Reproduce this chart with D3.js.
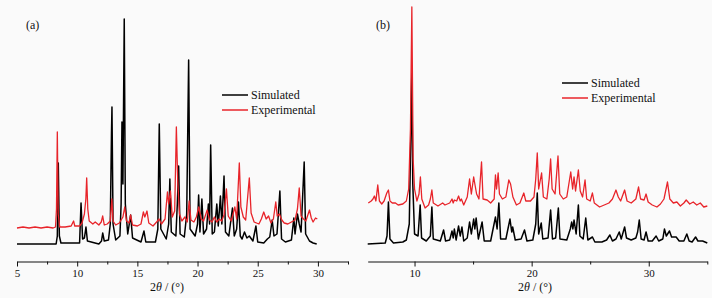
<!DOCTYPE html>
<html>
<head>
<meta charset="utf-8">
<script src="https://cdn.jsdelivr.net/npm/d3@7/dist/d3.min.js"></script>
<style>
body{margin:0;background:#fafafa;}
svg{display:block;}
text{font-family:"Liberation Serif","DejaVu Serif",serif;fill:#111;}
</style>
</head>
<body>
<div id="chart"></div>
<script>
// (a) 2theta / intensity (a.u.)
var simA = [[5.0,0],[8.25,0],[8.35,8],[8.43,81],[8.52,8],[8.65,1],[10.2,1],[10.32,41],[10.45,5],[10.6,6],[10.73,17],[10.85,3],[11.8,0],[12.02,3],[12.12,11],[12.25,3],[12.6,4],[12.75,20],[12.85,111],[12.89,137],[12.98,20],[13.2,4],[13.55,8],[13.65,40],[13.72,122],[13.8,60],[13.91,225],[14.0,40],[14.2,10],[14.44,29],[14.6,6],[15.3,2],[15.55,13],[15.7,2],[16.5,2],[16.7,15],[16.82,120],[16.95,15],[17.4,5],[17.6,20],[17.7,65],[17.82,12],[18.2,8],[18.32,40],[18.43,78],[18.55,10],[18.9,7],[19.1,30],[19.26,184],[19.38,15],[19.8,8],[20.0,20],[20.09,49],[20.2,12],[20.36,45],[20.5,10],[20.75,15],[20.9,40],[21.0,20],[21.09,99],[21.22,10],[21.4,12],[21.6,40],[21.72,18],[21.9,48],[22.02,20],[22.2,68],[22.32,12],[22.6,8],[22.9,36],[23.05,8],[23.25,15],[23.4,42],[23.55,8],[23.7,5],[23.9,12],[24.1,6],[24.3,8],[24.6,3],[24.85,18],[25.0,2],[25.5,1],[25.8,5],[26.0,7],[26.2,24],[26.35,8],[26.6,10],[26.84,53],[26.98,5],[27.3,2],[27.8,4],[28.0,26],[28.1,10],[28.3,30],[28.45,20],[28.6,12],[28.86,82],[28.98,10],[29.3,3],[29.6,1],[29.9,0]];
var expA = [[5.0,1],[5.5,2],[6.0,1],[6.5,2],[7.0,1],[7.5,2],[8.0,1],[8.2,2],[8.28,20],[8.35,97],[8.42,15],[8.55,2],[9.0,2],[9.5,3],[9.7,8],[9.8,3],[10.2,3],[10.4,6],[10.6,15],[10.72,30],[10.79,51],[10.88,20],[11.0,8],[11.3,5],[11.5,7],[11.8,4],[12.0,7],[12.12,13],[12.25,4],[12.5,5],[12.75,8],[12.88,30],[12.98,8],[13.2,4],[13.5,6],[13.8,12],[13.95,22],[14.1,8],[14.3,6],[14.44,14],[14.6,4],[15.0,3],[15.3,5],[15.5,17],[15.62,12],[15.8,18],[15.95,6],[16.3,3],[16.6,7],[16.8,10],[17.0,5],[17.3,10],[17.5,37],[17.6,25],[17.75,38],[17.9,12],[18.1,18],[18.24,102],[18.35,50],[18.5,15],[18.7,8],[18.95,12],[19.15,7],[19.3,28],[19.45,9],[19.7,7],[19.9,12],[20.1,22],[20.3,10],[20.5,8],[20.8,19],[21.0,9],[21.2,7],[21.4,12],[21.6,7],[21.8,10],[22.0,8],[22.2,14],[22.4,40],[22.55,13],[22.8,8],[23.1,22],[23.25,10],[23.47,66],[23.6,22],[23.8,12],[24.0,9],[24.3,51],[24.45,16],[24.7,7],[24.9,6],[25.1,5],[25.3,10],[25.5,17],[25.7,10],[25.9,13],[26.1,6],[26.3,10],[26.5,27],[26.62,13],[26.8,15],[27.0,9],[27.2,6],[27.5,5],[27.8,7],[28.1,9],[28.3,20],[28.45,41],[28.6,13],[28.8,10],[29.0,8],[29.3,19],[29.45,11],[29.6,7],[29.8,11],[29.95,10]];

// (b)
var simB = [[6.0,0],[7.5,1],[7.65,8],[7.77,42],[7.9,5],[8.2,1],[9.0,2],[9.3,4],[9.55,20],[9.7,120],[9.77,173],[9.85,60],[10.0,10],[10.3,8],[10.48,39],[10.6,6],[11.0,3],[11.35,8],[11.48,37],[11.6,5],[12.2,3],[12.48,14],[12.65,3],[13.0,4],[13.2,13],[13.3,6],[13.4,15],[13.55,4],[13.76,18],[13.9,8],[14.05,17],[14.2,3],[14.5,6],[14.7,22],[14.85,10],[15.05,25],[15.15,15],[15.26,26],[15.45,5],[15.77,22],[15.95,3],[16.5,3],[16.91,27],[17.05,15],[17.2,41],[17.35,5],[17.8,5],[18.15,25],[18.3,12],[18.38,17],[18.6,4],[19.1,5],[19.39,14],[19.6,3],[20.1,4],[20.35,20],[20.48,51],[20.6,10],[20.82,21],[20.95,5],[21.4,6],[21.62,34],[21.78,5],[22.05,6],[22.28,36],[22.42,5],[23.0,4],[23.3,15],[23.42,22],[23.52,15],[23.62,24],[23.8,10],[23.99,39],[24.12,8],[24.4,5],[24.62,26],[24.8,4],[25.19,7],[25.4,2],[26.0,2],[26.4,4],[26.68,9],[26.9,3],[27.2,5],[27.48,12],[27.65,5],[27.94,17],[28.1,6],[28.5,4],[28.9,6],[29.05,12],[29.19,24],[29.35,5],[29.6,4],[29.77,12],[29.95,3],[30.3,3],[30.63,8],[30.85,3],[31.2,5],[31.34,15],[31.5,8],[31.77,13],[31.95,7],[32.34,7],[32.6,3],[33.0,3],[33.25,10],[33.45,3],[33.7,2],[34.0,7],[34.2,3],[34.6,3],[35.0,1]];
var expB = [[6.05,6],[6.3,8],[6.45,10],[6.57,13],[6.7,8],[6.86,24],[7.0,8],[7.2,5],[7.4,8],[7.63,16],[7.77,19],[7.9,8],[8.1,6],[8.37,6],[8.6,4],[9.0,5],[9.3,8],[9.5,20],[9.65,80],[9.77,202],[9.88,50],[10.0,20],[10.2,8],[10.38,15],[10.5,32],[10.62,10],[10.9,1],[11.2,4],[11.35,10],[11.48,19],[11.6,6],[12.0,3],[12.4,6],[12.6,4],[13.0,6],[13.2,10],[13.3,6],[13.4,9],[13.6,8],[13.76,13],[13.9,8],[14.0,10],[14.2,4],[14.5,12],[14.7,30],[14.85,15],[15.05,32],[15.15,25],[15.3,15],[15.5,10],[15.72,47],[15.85,10],[16.2,9],[16.5,6],[16.8,10],[16.91,34],[17.0,20],[17.14,36],[17.25,15],[17.5,10],[17.8,12],[18.05,29],[18.2,25],[18.4,12],[18.7,4],[19.0,6],[19.33,16],[19.5,8],[19.9,8],[20.2,12],[20.35,30],[20.48,56],[20.6,20],[20.85,36],[21.0,12],[21.3,10],[21.5,30],[21.62,50],[21.75,20],[22.0,15],[22.25,53],[22.4,15],[22.7,10],[23.0,12],[23.34,37],[23.5,20],[23.62,32],[23.75,18],[23.99,39],[24.15,18],[24.35,12],[24.56,29],[24.7,10],[25.0,8],[25.19,16],[25.35,6],[25.8,2],[26.2,4],[26.6,6],[26.9,10],[27.2,19],[27.4,12],[27.6,8],[27.94,19],[28.15,8],[28.5,6],[28.9,10],[29.13,22],[29.3,10],[29.6,9],[29.77,15],[29.95,7],[30.3,4],[30.7,2],[31.0,5],[31.3,10],[31.6,27],[31.8,10],[32.1,6],[32.4,7],[32.7,3],[33.0,6],[33.2,9],[33.5,5],[33.8,7],[34.1,4],[34.4,6],[34.7,2],[35.0,3]];

var ticksA = [5,10,15,20,25,30];
var minorA = [7.5,12.5,17.5,22.5,27.5,32.5];
var ticksB = [10,20,30];
var minorB = [15,25,35];
var legendNames = ["Simulated","Experimental"];
var colors = ["#000000","#e8242a"];

function init(){
    var w = 723, h = 298;

    var svg = d3.select("#chart")
        .append("svg")
        .attr("width", w)
        .attr("height", h);

    svg.append("rect")
        .attr("x", 712).attr("y", 0)
        .attr("width", w - 712).attr("height", h)
        .style("fill", "#ffffff");

    panel(svg, {
        label: "(a)", labelX: 26, titleX: 167,
        x0: 17, x1: 348, domain: [5, 32.5],
        ymax: 225, yTop: 19, expOffset: 15,
        sim: simA, exp: expA, ticks: ticksA, minor: minorA,
        legendX: 222, legendY: 95
    });

    panel(svg, {
        label: "(b)", labelX: 376, titleX: 535,
        x0: 367.7, x1: 707.3, domain: [6, 35],
        ymax: 237, yTop: 7, expOffset: 35,
        sim: simB, exp: expB, ticks: ticksB, minor: minorB,
        legendX: 562, legendY: 83
    });
}

function panel(svg, p){
    var base = 244;
    var axisY = 261.5;

    var xScale = d3.scaleLinear()
        .domain(p.domain)
        .range([p.x0, p.x1]);

    var yScale = d3.scaleLinear()
        .domain([0, p.ymax])
        .range([base, p.yTop]);

    var simLine = d3.line()
        .x(function(d){ return xScale(d[0]); })
        .y(function(d){ return yScale(d[1]); });

    var expLine = d3.line()
        .x(function(d){ return xScale(d[0]); })
        .y(function(d){ return yScale(d[1] + p.expOffset); });

    svg.append("path")
        .datum(p.sim)
        .attr("d", simLine)
        .style("fill", "none")
        .style("stroke", colors[0])
        .style("stroke-width", 1.5)
        .style("stroke-linejoin", "round");

    svg.append("path")
        .datum(p.exp)
        .attr("d", expLine)
        .style("fill", "none")
        .style("stroke", colors[1])
        .style("stroke-width", 1.3)
        .style("stroke-linejoin", "round");

    // x axis, major and minor ticks
    var xAxis = d3.axisBottom(xScale)
        .tickValues(p.ticks)
        .tickSize(5)
        .tickSizeOuter(0)
        .tickPadding(3);

    var g = svg.append("g")
        .attr("transform", "translate(0," + axisY + ")")
        .call(xAxis);
    g.attr("font-family", null);
    g.selectAll("text")
        .attr("dy", null)
        .attr("y", 15)
        .style("font-family", "'Liberation Serif', serif")
        .style("font-size", "11px")
        .style("fill", "#111");
    g.selectAll("line,path").style("stroke", "#111");

    var minorAxis = d3.axisBottom(xScale)
        .tickValues(p.minor)
        .tickSize(3)
        .tickSizeOuter(0)
        .tickFormat("");
    var gm = svg.append("g")
        .attr("transform", "translate(0," + axisY + ")")
        .call(minorAxis);
    gm.select(".domain").remove();
    gm.selectAll("line").style("stroke", "#111");

    // axis title
    var title = svg.append("text")
        .attr("x", p.titleX)
        .attr("y", 291)
        .style("font-size", "12px")
        .attr("text-anchor", "middle");
    title.append("tspan").text("2");
    title.append("tspan").style("font-style", "italic").text("θ");
    title.append("tspan").text(" / (°)");

    // panel label
    svg.append("text")
        .attr("x", p.labelX)
        .attr("y", 29)
        .style("font-size", "12px")
        .text(p.label);

    // legend
    legendNames.forEach(function(name, i){
        var y = p.legendY + i * 15;
        svg.append("line")
            .attr("x1", p.legendX)
            .attr("x2", p.legendX + 26)
            .attr("y1", y)
            .attr("y2", y)
            .style("stroke", colors[i])
            .style("stroke-width", 1.5);
        svg.append("text")
            .attr("x", p.legendX + 29)
            .attr("y", y + 4)
            .style("font-size", "12px")
            .text(name);
    });
}

init();
</script>
</body>
</html>
